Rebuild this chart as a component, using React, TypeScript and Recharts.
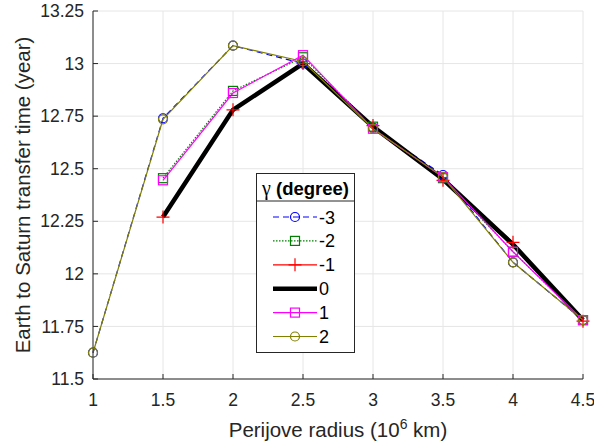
import React from 'react';
import {
  LineChart, Line, XAxis, YAxis, CartesianGrid, Legend,
} from 'recharts';

const X_VALUES = [1, 1.5, 2, 2.5, 3, 3.5, 4, 4.5];
const X_TICKS = [1, 1.5, 2, 2.5, 3, 3.5, 4, 4.5];
const Y_TICKS = [11.5, 11.75, 12, 12.25, 12.5, 12.75, 13, 13.25];

const GAMMA_M3 = [11.625, 12.74, 13.085, 13.0, 12.695, 12.47, 12.055, 11.78];
const GAMMA_M2 = [null, 12.455, 12.87, 13.03, 12.7, 12.455, 12.105, 11.78];
const GAMMA_M1 = [null, 12.27, 12.78, 13.0, 12.705, 12.445, 12.15, 11.775];
const GAMMA_0 = [null, 12.27, 12.78, 13.0, 12.7, 12.45, 12.14, 11.78];
const GAMMA_P1 = [null, 12.445, 12.86, 13.04, 12.69, 12.46, 12.105, 11.78];
const GAMMA_P2 = [11.625, 12.735, 13.085, 13.01, 12.69, 12.46, 12.055, 11.78];

const data = X_VALUES.map((x, i) => ({
  x,
  m3: GAMMA_M3[i],
  m2: GAMMA_M2[i],
  m1: GAMMA_M1[i],
  z0: GAMMA_0[i],
  p1: GAMMA_P1[i],
  p2: GAMMA_P2[i],
}));

type Marker = 'circle' | 'square' | 'plus' | 'none';

const SERIES: { key: string; name: string; color: string; dash?: string; width: number; marker: Marker }[] = [
  { key: 'm3', name: '-3', color: '#0000ff', dash: '6 4', width: 1.2, marker: 'circle' },
  { key: 'm2', name: '-2', color: '#007f00', dash: '1.5 1.5', width: 1.2, marker: 'square' },
  { key: 'm1', name: '-1', color: '#ff0000', width: 1.2, marker: 'plus' },
  { key: 'z0', name: '0', color: '#000000', width: 4.5, marker: 'none' },
  { key: 'p1', name: '1', color: '#ff00ff', width: 1.2, marker: 'square' },
  { key: 'p2', name: '2', color: '#808000', width: 1.2, marker: 'circle' },
];

const FONT = '"Liberation Sans", Arial, Helvetica, sans-serif';
const AXIS = '#262626';

const drawMarker = (marker: Marker, color: string, cx: number, cy: number, key?: string | number) => {
  if (marker === 'circle') {
    return <circle key={key} cx={cx} cy={cy} r={4.5} fill="none" stroke={color} strokeWidth={1.2} />;
  }
  if (marker === 'square') {
    return <rect key={key} x={cx - 4.5} y={cy - 4.5} width={9} height={9} fill="none" stroke={color} strokeWidth={1.2} />;
  }
  if (marker === 'plus') {
    return (
      <path key={key} d={`M${cx - 6.5},${cy}H${cx + 6.5}M${cx},${cy - 6.5}V${cy + 6.5}`} stroke={color} strokeWidth={1.2} fill="none" />
    );
  }
  return <g key={key} />;
};

const makeDot = (marker: Marker, color: string) => (props: any) => {
  const { cx, cy, index } = props;
  if (cx == null || cy == null || props.value == null) return <g key={`d-${index}`} />;
  return drawMarker(marker, color, cx, cy, `d-${index}`);
};

const LegendBox = () => (
  <svg width={99} height={180} style={{ display: 'block' }}>
    <rect x={0.5} y={0.5} width={98} height={179} fill="#fff" stroke={AXIS} strokeWidth={1} />
    <text x={49.5} y={22} textAnchor="middle" fontFamily={FONT} fontWeight="bold" fontSize={18.5} fill="#000">
      <tspan fontFamily='"Liberation Serif", "DejaVu Serif", serif' fontWeight="normal" fontSize={20}>γ</tspan> (degree)
    </text>
    <line x1={0.5} x2={98.5} y1={28} y2={28} stroke={AXIS} strokeWidth={1} />
    {SERIES.map((s, i) => {
      const y = 44 + i * 23.9;
      return (
        <g key={s.key}>
          <line x1={17} x2={61} y1={y} y2={y} stroke={s.color} strokeWidth={s.width} strokeDasharray={s.dash} />
          {drawMarker(s.marker, s.color, 39, y)}
          <text x={63} y={y + 6.5} fontFamily={FONT} fontSize={18} fill="#000">{s.name}</text>
        </g>
      );
    })}
  </svg>
);

const App: React.FC = () => {
  return (
    <div style={{ position: 'absolute', left: 0, top: 0, background: '#fff' }}>
      <LineChart width={594} height={446} data={data} margin={{ top: 11, right: 11, bottom: 27, left: 0 }}>
        <CartesianGrid stroke="#e6e6e6" strokeWidth={1} />
        <XAxis
          dataKey="x"
          type="number"
          domain={[1, 4.5]}
          ticks={X_TICKS}
          height={40}
          stroke={AXIS}
          tickSize={-5}
          tickMargin={20}
          tick={{ fontSize: 17.5, fill: AXIS, fontFamily: FONT }}
          label={{
            content: () => (
              <text x={338} y={437} textAnchor="middle" fontFamily={FONT} fontSize={20.5} fill={AXIS}>
                Perijove radius (10<tspan dy={-8} fontSize={14}>6</tspan><tspan dy={8}> km)</tspan>
              </text>
            ),
          }}
        />
        <XAxis xAxisId="top" dataKey="x" type="number" domain={[1, 4.5]} ticks={X_TICKS} orientation="top" height={0} stroke={AXIS} tickSize={-5} tickFormatter={() => ''} />
        <YAxis
          type="number"
          domain={[11.5, 13.25]}
          ticks={Y_TICKS}
          width={93}
          stroke={AXIS}
          tickSize={-5}
          tickMargin={14}
          tick={{ fontSize: 17.5, fill: AXIS, fontFamily: FONT }}
          label={{
            content: () => (
              <text x={30} y={195} transform="rotate(-90 30 195)" textAnchor="middle" fontFamily={FONT} fontSize={20.5} fill={AXIS}>
                Earth to Saturn transfer time (year)
              </text>
            ),
          }}
        />
        <YAxis yAxisId="right" type="number" domain={[11.5, 13.25]} ticks={Y_TICKS} orientation="right" width={0} stroke={AXIS} tickSize={-5} tickFormatter={() => ''} />
        {SERIES.map((s) => (
          <Line
            key={s.key}
            dataKey={s.key}
            name={s.name}
            type="linear"
            stroke={s.color}
            strokeWidth={s.width}
            strokeDasharray={s.dash}
            dot={makeDot(s.marker, s.color)}
            activeDot={false}
            isAnimationActive={false}
          />
        ))}
        <Legend
          layout="vertical"
          align="center"
          verticalAlign="middle"
          content={() => <LegendBox />}
          wrapperStyle={{ position: 'absolute', left: 256, top: 173, width: 99, height: 180 }}
        />
      </LineChart>
    </div>
  );
};

export default App;
